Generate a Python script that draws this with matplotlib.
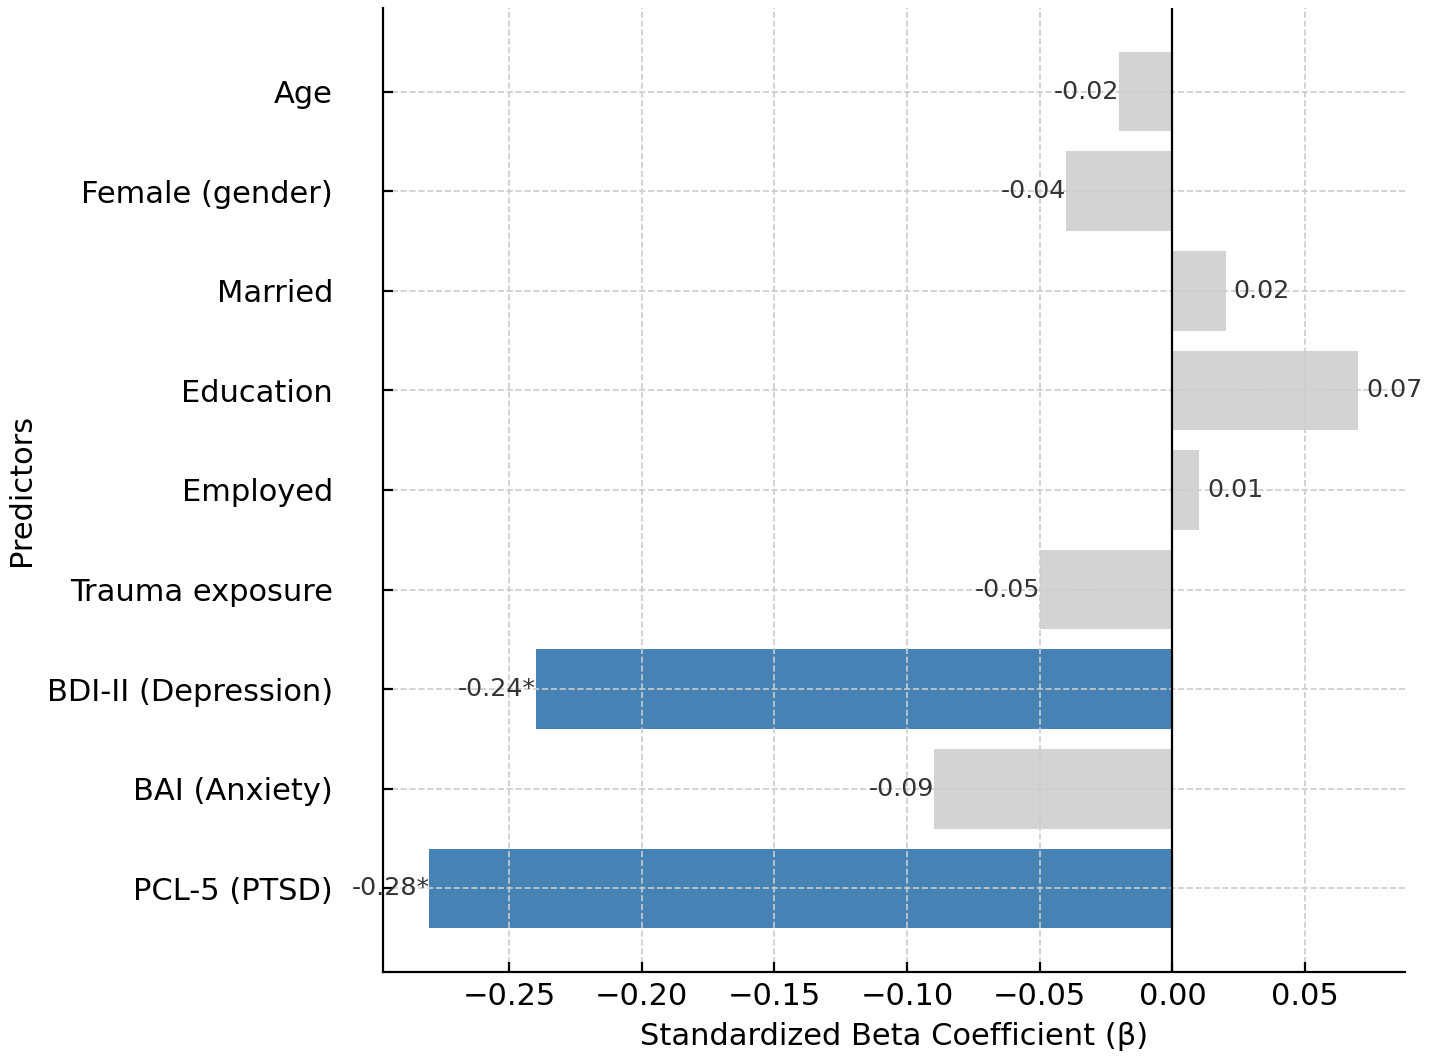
import matplotlib
matplotlib.use("Agg")
import matplotlib.pyplot as plt

# Predictors and standardized betas (bottom to top as drawn)
predictors = ["PCL-5 (PTSD)", "BAI (Anxiety)", "BDI-II (Depression)", "Trauma exposure",
              "Employed", "Education", "Married", "Female (gender)", "Age"]
betas = [-0.28, -0.09, -0.24, -0.05, 0.01, 0.07, 0.02, -0.04, -0.02]
significant = [True, False, True, False, False, False, False, False, False]

colors = ["steelblue" if s else "lightgray" for s in significant]

fig, ax = plt.subplots(figsize=(7.145, 5.3), dpi=200)
fig.subplots_adjust(left=0.268, right=0.983, top=0.9925, bottom=0.083)

bars = ax.barh(predictors, betas, color=colors, height=0.8)
ax.axvline(0, color="black", linewidth=0.8)

# value labels at bar ends
for y, (v, s) in enumerate(zip(betas, significant)):
    label = f"{v:.2f}" + ("*" if s else "")
    if v < 0:
        ax.text(v, y, label, ha="right", va="center", fontsize=9.1, color="#333333")
    else:
        ax.text(v + 0.003, y, label, ha="left", va="center", fontsize=9.1, color="#333333")

ax.grid(True, linestyle="--", color="#cccccc", linewidth=0.6)
ax.spines["top"].set_visible(False)
ax.spines["right"].set_visible(False)
ax.tick_params(axis="both", direction="in", labelsize=11)
ax.tick_params(axis="y", pad=18)

ax.set_xlabel("Standardized Beta Coefficient (β)", fontsize=11)
ax.set_ylabel("Predictors", fontsize=11)

fig.savefig("out.png", dpi=200)
